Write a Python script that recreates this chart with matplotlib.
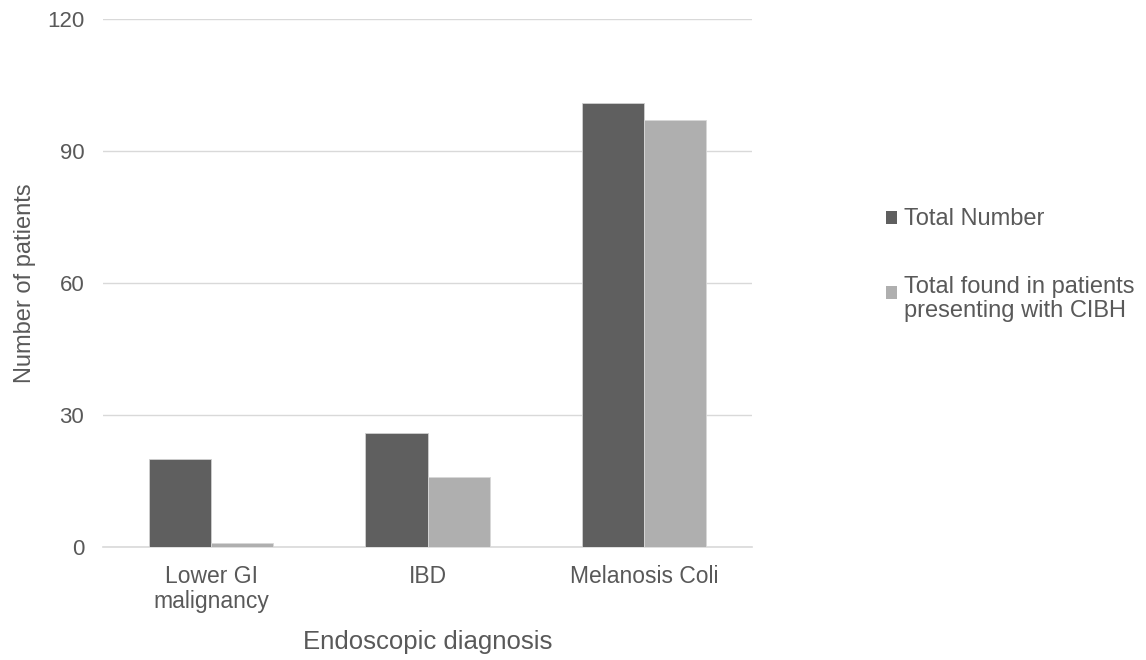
import matplotlib
matplotlib.use("Agg")
import matplotlib.pyplot as plt
import numpy as np

categories = ["Lower GI\nmalignancy", "IBD", "Melanosis Coli"]
total_number = [20, 26, 101]
total_cibh = [1, 16, 97]
series_names = ["Total Number", "Total found in patients\npresenting with CIBH"]
yticks = [0, 30, 60, 90, 120]

plt.rcParams['font.family'] = ['Liberation Sans', 'DejaVu Sans']
GREY = "#595959"

fig = plt.figure(figsize=(11.46, 6.6), dpi=100)
ax = fig.add_axes([0.0899, 0.1712, 0.5664, 0.8])

x = np.arange(len(categories))
w = 0.287
ax.bar(x - w/2, total_number, w, color="#5f5f5f", edgecolor="#d0d0d0", linewidth=0.6,
       label=series_names[0], zorder=3)
ax.bar(x + w/2, total_cibh, w, color="#afafaf", edgecolor="#d8d8d8", linewidth=0.6,
       label=series_names[1], zorder=3)

ax.set_xlim(-0.5, 2.5)
ax.set_ylim(0, 120)
ax.set_yticks(yticks)
ax.grid(axis='y', color="#d9d9d9", linewidth=1, zorder=0)
for s in ["top", "right", "left"]:
    ax.spines[s].set_visible(False)
ax.spines["bottom"].set_color("#d9d9d9")
ax.spines["bottom"].set_linewidth(1.2)
ax.tick_params(axis='both', length=0, colors=GREY)
ax.tick_params(axis='y', pad=13.5, labelsize=16)
ax.tick_params(axis='x', pad=13, labelsize=16.5)
ax.set_xticks(x)
ax.set_xticklabels(categories, color=GREY, linespacing=1.1)
ax.set_ylabel("Number of patients", color=GREY, fontsize=17, labelpad=8)
ax.set_xlabel("Endoscopic diagnosis", color=GREY, fontsize=18.5, labelpad=12)

leg = ax.legend(loc="upper left", bbox_to_anchor=(0.763, 0.702), bbox_transform=fig.transFigure,
                frameon=False, fontsize=17, handlelength=0.47, handleheight=0.47,
                handletextpad=0.28, labelspacing=1.92, labelcolor=GREY, borderpad=0)
for h in leg.legend_handles:
    h.set_edgecolor("none")
for t in leg.get_texts():
    t.set_linespacing(1.1)
# align the second square with the first line of its two-line label
h2 = leg.legend_handles[1]
h2.set_y(h2.get_y() + 4.5)

fig.savefig("out.png", dpi=100)
